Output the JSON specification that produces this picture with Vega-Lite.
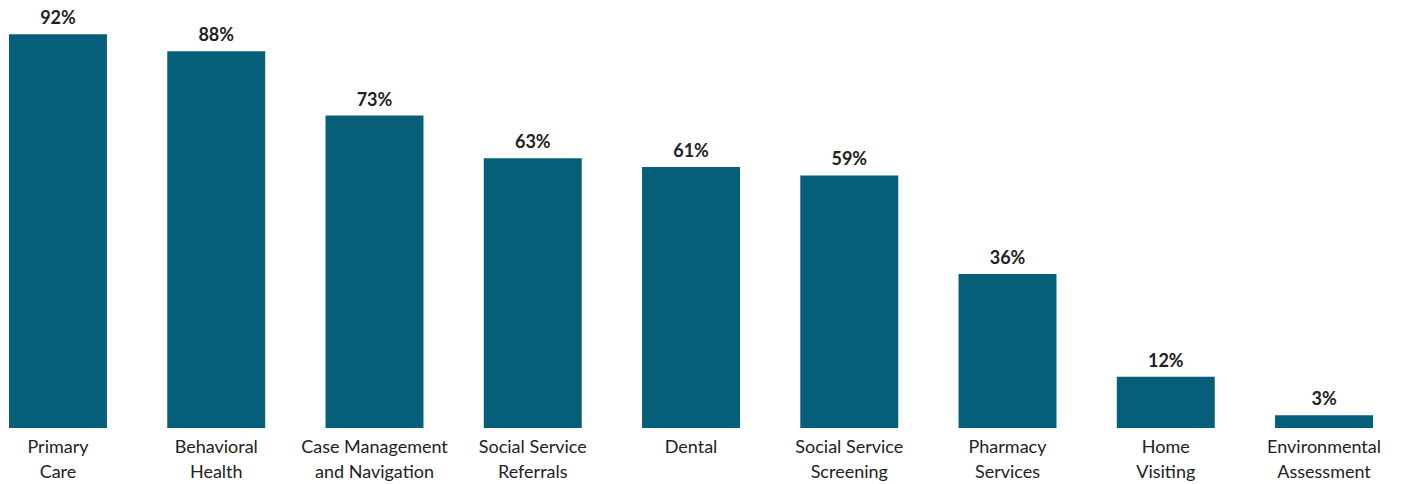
{
  "$schema": "https://vega.github.io/schema/vega-lite/v6.json",
  "autosize": {"type": "fit", "contains": "padding"},
  "width": 1402,
  "height": 484,
  "padding": {"left": 0, "top": 0, "right": 0, "bottom": 3},
  "background": "white",
  "config": {"view": {"stroke": null}, "font": "Lato"},
  "data": {"values": [
    {"service": "Primary Care", "pct": 0.92},
    {"service": "Behavioral Health", "pct": 0.88},
    {"service": "Case Management and Navigation", "pct": 0.73},
    {"service": "Social Service Referrals", "pct": 0.63},
    {"service": "Dental", "pct": 0.61},
    {"service": "Social Service Screening", "pct": 0.59},
    {"service": "Pharmacy Services", "pct": 0.36},
    {"service": "Home Visiting", "pct": 0.12},
    {"service": "Environmental Assessment", "pct": 0.03}
  ]},
  "encoding": {
    "x": {"field": "service", "type": "nominal", "sort": null,
      "scale": {"paddingInner": 0.381, "paddingOuter": 0.12, "align": 0.237},
      "axis": {"title": null, "labelAngle": 0, "domain": false, "ticks": false,
        "labelPadding": 10, "labelFontSize": 18, "labelColor": "#222222", "labelLineHeight": 25,
        "labelFont": "Lato",
        "labelExpr": "datum.value == 'Case Management and Navigation' ? ['Case Management', 'and Navigation'] : indexof(datum.value, 'Social Service') == 0 ? ['Social Service', replace(datum.value, 'Social Service ', '')] : split(datum.value, ' ')"}},
    "y": {"field": "pct", "type": "quantitative", "scale": {"domain": [0, 1]}, "axis": null}
  },
  "layer": [
    {"mark": {"type": "bar", "color": "#055F78"}},
    {"mark": {"type": "text", "baseline": "bottom", "dy": -6, "fontSize": 18, "fontWeight": "bold", "color": "#222222"},
     "encoding": {"text": {"field": "pct", "type": "quantitative", "format": ".0%"}}}
  ]
}
